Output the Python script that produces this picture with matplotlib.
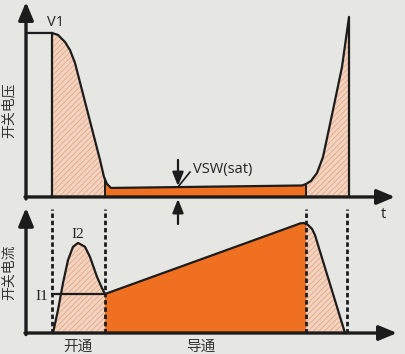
import numpy as np
import matplotlib
matplotlib.use("Agg")
import matplotlib.pyplot as plt

plt.rcParams['font.family'] = ['Noto Sans CJK SC', 'DejaVu Sans']
plt.rcParams['hatch.linewidth'] = 0.5

# switching instants (ns): turn-on start/end, turn-off start/end
t_on_start, t_on_end, t_off_start, t_off_end = 0, 53, 254, 295

# switch voltage waveform (time, volts)
v_t = [-26, 0, 6, 13, 18, 23, 48, 52, 55, 59, 250, 254, 259, 265, 271, 281, 290, 297, 297]
v_val = [100, 100, 98.8, 94.5, 89.6, 81.7, 22.6, 12.2, 7.9, 5.5, 7.0, 7.9, 9.8,
         14.6, 24.4, 53.0, 79.3, 109.8, 0]
v1 = 100

# switch current waveform (time, amps)
i_t = [1, 6, 11, 16, 21, 26, 33, 38, 45, 50, 53, 244, 248, 252, 256, 260, 263, 293]
i_val = [0, 5.9, 12.8, 18.7, 22.1, 23.1, 22.1, 19.5, 14.4, 11.5, 10, 27.7, 28.1,
         28.2, 27.7, 26.7, 25.1, 0]
i1 = 10
i2 = 23.1

bg = '#e6e6e2'
dark = '#1c1c1c'
orange = '#f07022'
peach = '#f3d2be'
hatch_col = '#e0a282'

fig = plt.figure(figsize=(4.05, 3.54), dpi=100, facecolor=bg)
ax_top = fig.add_axes([0, 149 / 354, 1, 205 / 354])
ax_bot = fig.add_axes([0, 0, 1, 154 / 354])
for ax in (ax_top, ax_bot):
    ax.set_axis_off()
    ax.set_xlim(-52, 353)
    ax.patch.set_alpha(0)
ax_top.set_ylim(-4.9, 120.1)
ax_bot.set_ylim(-5.38, 34.1)

axis_arrow = dict(arrowstyle='-|>,head_length=0.6,head_width=0.25', lw=2.4,
                  color=dark, mutation_scale=18, shrinkA=0, shrinkB=0)


def shade(ax, t, y):
    """Hatched switching-loss areas and the orange conduction area."""
    tt = np.arange(t[0], t[-1] + 0.001, 0.25)
    yy = np.interp(tt, t, y)
    sw = ((tt >= t_on_start) & (tt <= t_on_end)) | (tt >= t_off_start)
    cond = (tt >= t_on_end) & (tt <= t_off_start)
    ax.fill_between(tt, 0, yy, where=sw, facecolor=peach, edgecolor=hatch_col,
                    hatch='//////', linewidth=0, zorder=1)
    ax.fill_between(tt, 0, yy, where=cond, facecolor=orange, linewidth=0, zorder=1)


# ---- voltage panel ----
shade(ax_top, v_t[1:], v_val[1:])
ax_top.plot(v_t, v_val, color=dark, lw=1.6, zorder=3, solid_joinstyle='round')
ax_top.plot([t_on_start, t_on_start], [0, v1], color=dark, lw=1.6, zorder=3)
for tb in (t_on_end, t_off_start):
    ax_top.plot([tb, tb], [0, np.interp(tb, v_t[1:], v_val[1:])], color=dark,
                lw=1.4, zorder=3)
ax_top.annotate('', xy=(343, 0), xytext=(-27, 0), arrowprops=axis_arrow,
                annotation_clip=False, zorder=4)
ax_top.annotate('', xy=(-26, 118.9), xytext=(-26, -1.2), arrowprops=axis_arrow,
                annotation_clip=False, zorder=4)

# saturation-voltage marker
small_arrow = dict(arrowstyle='-|>,head_length=0.55,head_width=0.22', lw=1.6,
                   color=dark, mutation_scale=15, shrinkA=0, shrinkB=0)
ax_top.annotate('', xy=(126, 6.6), xytext=(126, 22.6), arrowprops=small_arrow,
                annotation_clip=False, zorder=5)
ax_top.annotate('', xy=(126, -1.2), xytext=(126, -16.5), arrowprops=small_arrow,
                annotation_clip=False, zorder=5)
ax_top.plot([126, 138], [6.1, 15.2], color=dark, lw=1.2, zorder=5)
ax_top.text(141, 16.5, 'VSW(sat)', family='Open Sans', fontsize=10.5,
            color='#222222', ha='left', va='center')
ax_top.text(4, 106.5, 'V1', family='Open Sans', fontsize=10.5, color='#222222',
            ha='center', va='center')
ax_top.text(331, -10.5, 't', family='Open Sans', fontsize=10.5, color='#222222',
            ha='center', va='center')
ax_top.text(-43, 53, '开关电压', fontsize=10, color='#333333', rotation=90,
            ha='center', va='center')

# ---- current panel ----
shade(ax_bot, [0] + i_t, [0] + i_val)
ax_bot.plot(i_t, i_val, color=dark, lw=1.6, zorder=3, solid_joinstyle='round')
ax_bot.plot([t_on_start, t_on_end], [i1, i1], color=dark, lw=1.6, zorder=3)
for tb in (t_on_start, t_on_end, t_off_start, t_off_end):
    ax_bot.plot([tb, tb], [0, 31.8], color=dark, lw=2.0, dashes=(1.6, 1.0),
                zorder=4)
ax_bot.annotate('', xy=(345, 0), xytext=(-27, 0), arrowprops=axis_arrow,
                annotation_clip=False, zorder=5)
ax_bot.annotate('', xy=(-26, 32.1), xytext=(-26, -0.4), arrowprops=axis_arrow,
                annotation_clip=False, zorder=5)
ax_bot.text(26, 25.3, 'I2', family='Liberation Serif', fontsize=11,
            color='#222222', ha='center', va='center')
ax_bot.text(-10, 9.3, 'I1', family='Liberation Serif', fontsize=11,
            color='#222222', ha='center', va='center')
ax_bot.text(-43, 15.6, '开关电流', fontsize=10, color='#333333', rotation=90,
            ha='center', va='center')
ax_bot.text(26, -3.5, '开通', fontsize=10.5, color='#333333', ha='center',
            va='center')
ax_bot.text(149, -3.5, '导通', fontsize=10.5, color='#333333', ha='center',
            va='center')

fig.savefig('out.png', dpi=100, facecolor=bg)
